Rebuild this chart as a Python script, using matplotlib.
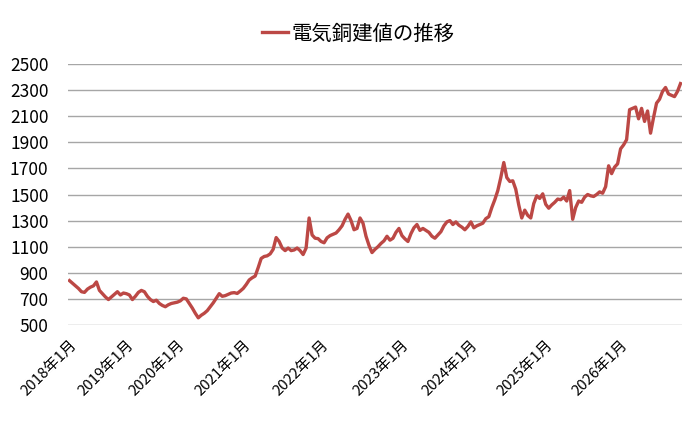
import matplotlib
matplotlib.use('Agg')
import numpy as np
import matplotlib.pyplot as plt

plt.rcParams['font.family'] = ['Noto Sans CJK JP', 'DejaVu Sans']

## copper price series (yen/kg) at even steps
price = [
    840, 820, 800, 780, 755, 750, 775, 790, 800, 830,
    765, 740, 715, 695, 715, 735, 755, 730, 745, 740,
    730, 695, 720, 750, 765, 755, 720, 695, 680, 690,
    665, 650, 640, 655, 665, 670, 675, 685, 705, 700,
    665, 630, 590, 555, 575, 590, 610, 640, 670, 705,
    740, 720, 725, 735, 745, 748, 742, 760, 780, 810,
    845, 862, 875, 940, 1010, 1025, 1030, 1045, 1080, 1170,
    1140, 1090, 1070, 1090, 1070, 1075, 1090, 1070, 1040, 1090,
    1320, 1190, 1165, 1162, 1140, 1130, 1168, 1185, 1195, 1205,
    1230, 1260, 1310, 1350, 1300, 1230, 1240, 1320, 1280, 1180,
    1110, 1055, 1080, 1100, 1125, 1145, 1180, 1150, 1165, 1210,
    1240, 1185, 1160, 1140, 1200, 1245, 1270, 1225, 1240, 1225,
    1210, 1180, 1165, 1190, 1215, 1260, 1290, 1300, 1270, 1290,
    1265, 1250, 1230, 1255, 1290, 1245, 1260, 1270, 1280, 1315,
    1330, 1400, 1460, 1530, 1630, 1745, 1630, 1600, 1605, 1540,
    1420, 1320, 1380, 1340, 1320, 1430, 1490, 1470, 1505, 1425,
    1395, 1420, 1440, 1465, 1460, 1480, 1450, 1530, 1310, 1400,
    1450, 1440, 1480, 1500, 1490, 1485, 1500, 1520, 1510, 1560,
    1720, 1660, 1710, 1735, 1850, 1880, 1920, 2150, 2160, 2170,
    2080, 2160, 2060, 2140, 1970, 2090, 2200, 2230, 2290, 2320,
    2270, 2260, 2250, 2290, 2350,
]

# category labels and the point each one sits on
tick_idx = [0, 19, 36, 58, 84, 111, 134, 159, 184]
tick_lab = ['2018年1月', '2019年1月', '2020年1月', '2021年1月', '2022年1月',
            '2023年1月', '2024年1月', '2025年1月', '2026年1月']

c_line = '#BC4845'

fig = plt.figure(figsize=(6.98, 4.22), dpi=100)
ax = fig.add_axes([68/698, 1 - 325/422, 614/698, 261/422])

x = np.arange(len(price))
ax.plot(x, price, color=c_line, lw=2.4, label='電気銅建値の推移', solid_joinstyle='round')

ax.set_ylim(500, 2500)
ax.set_yticks(np.arange(500, 2501, 200))
ax.set_xlim(-0.5, len(price) - 0.5)
ax.set_xticks(tick_idx)
ax.set_xticklabels(tick_lab, rotation=45, ha='right', rotation_mode='anchor', fontsize=10.8)
ax.tick_params(axis='y', labelsize=12.5, length=0, pad=14)
ax.tick_params(axis='x', length=0, pad=9)
ax.grid(axis='y', color='#A6A6A6', lw=1)
ax.set_axisbelow(True)
for sp in ax.spines.values():
    sp.set_visible(False)

ax.legend(loc='center', bbox_to_anchor=(0.472, 1.115), frameon=False, fontsize=14.7,
          handlelength=1.3, handletextpad=0.15)

fig.savefig('out.png', dpi=100)
